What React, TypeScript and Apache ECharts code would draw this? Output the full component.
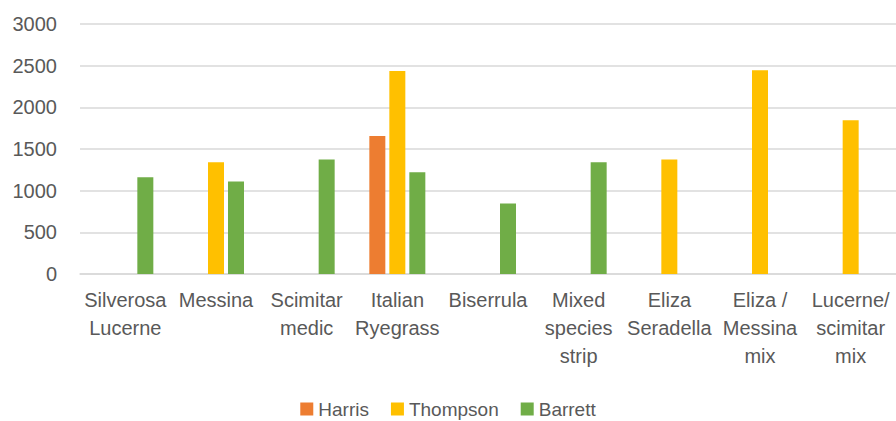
import React, { useEffect, useRef } from "react";
import * as echarts from "echarts";

const categories = [
  "Silverosa\nLucerne",
  "Messina",
  "Scimitar\nmedic",
  "Italian\nRyegrass",
  "Biserrula",
  "Mixed\nspecies\nstrip",
  "Eliza\nSeradella",
  "Eliza /\nMessina\nmix",
  "Lucerne/\nscimitar\nmix",
];
const harris = [null, null, null, 1655, null, null, null, null, null];
const thompson = [null, 1340, null, 2435, null, null, 1375, 2445, 1845];
const barrett = [1160, 1110, 1375, 1220, 845, 1340, null, null, null];
const seriesNames = ["Harris", "Thompson", "Barrett"];
const colors = ["#ED7D31", "#FFC000", "#70AD47"];

const FONT = "'Liberation Sans', Arial, sans-serif";

export default function App() {
  const ref = useRef<HTMLDivElement>(null);
  useEffect(() => {
    if (!ref.current) return;
    const chart = echarts.init(ref.current, null, { renderer: "svg" });
    const data = [harris, thompson, barrett];
    chart.setOption({
      animation: false,
      textStyle: { fontFamily: FONT },
      grid: { left: 80, right: 0, top: 24, bottom: 147, containLabel: false },
      legend: {
        top: 399,
        left: "center",
        padding: 0,
        itemWidth: 13,
        itemHeight: 13,
        itemGap: 22,
        icon: "rect",
        textStyle: { fontSize: 19, lineHeight: 20, color: "#595959", fontFamily: FONT },
        data: seriesNames,
      },
      xAxis: {
        type: "category",
        data: categories,
        axisLine: { show: true, lineStyle: { color: "#d9d9d9", width: 1.5 } },
        axisTick: { show: false },
        axisLabel: {
          interval: 0,
          fontSize: 20,
          lineHeight: 28,
          color: "#595959",
          margin: 12,
          fontFamily: FONT,
        },
      },
      yAxis: {
        type: "value",
        min: 0,
        max: 3000,
        interval: 500,
        axisLine: { show: false },
        axisTick: { show: false },
        splitLine: { lineStyle: { color: "#d9d9d9", width: 1.5 } },
        axisLabel: {
          fontSize: 20,
          color: "#595959",
          margin: 23,
          fontFamily: FONT,
          formatter: (v: number) => String(v),
        },
      },
      series: seriesNames.map((name, i) => ({
        name,
        type: "bar",
        data: data[i],
        barWidth: 16,
        barGap: "25%",
        itemStyle: { color: colors[i] },
      })),
    });
    return () => chart.dispose();
  }, []);
  return (
    <div
      ref={ref}
      style={{ position: "fixed", left: 0, top: 0, width: 896, height: 421, background: "#fff" }}
    />
  );
}
